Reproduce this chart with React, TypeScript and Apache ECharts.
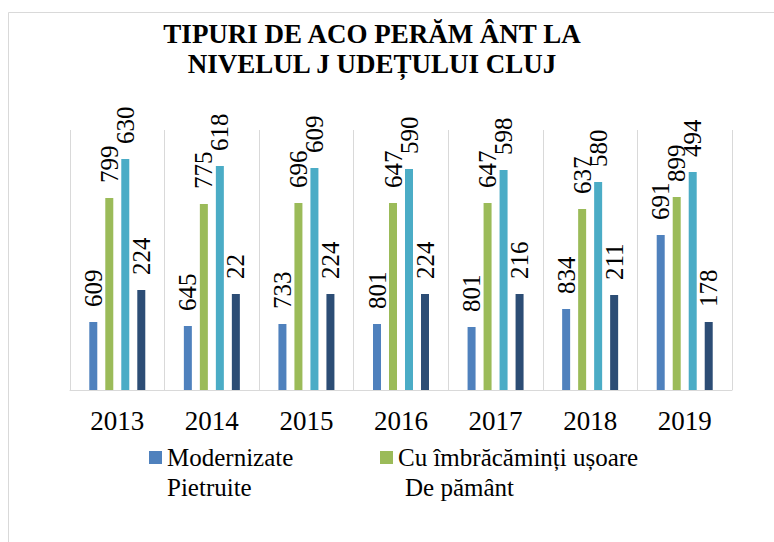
import React, { useEffect, useRef } from "react";
import * as echarts from "echarts";

// Categories
const years = ["2013", "2014", "2015", "2016", "2017", "2018", "2019"];

// Series names
const seriesNames = ["Modernizate", "Cu îmbrăcăminți ușoare", "Pietruite", "De pământ"];

// Bar heights as drawn in the reference (relative scale)
const modernizate = [68, 64, 66, 66, 63, 81, 155];
const cuImbracaminti = [192, 186, 187, 187, 187, 181, 193];
const pietruite = [231, 224, 222, 221, 220, 208, 218];
const dePamant = [100, 96, 96, 96, 96, 95, 68];

// Data labels as printed in the reference
const modernizateLabels = ["609", "645", "733", "801", "801", "834", "691"];
const cuImbracamintiLabels = ["799", "775", "696", "647", "647", "637", "899"];
const pietruiteLabels = ["630", "618", "609", "590", "598", "580", "494"];
const dePamantLabels = ["224", "22", "224", "224", "216", "211", "178"];

const colors = ["#4f81bd", "#9bbb59", "#4bacc6", "#2c4d75"];
const FONT = "Times New Roman, Liberation Serif, serif";

export default function App() {
  const ref = useRef<HTMLDivElement>(null);

  useEffect(() => {
    if (!ref.current) return;
    const chart = echarts.init(ref.current, undefined, { renderer: "svg" });
    const values = [modernizate, cuImbracaminti, pietruite, dePamant];
    const labels = [modernizateLabels, cuImbracamintiLabels, pietruiteLabels, dePamantLabels];

    const series = seriesNames.map((name, i) => ({
      name,
      type: "bar",
      data: values[i],
      barWidth: 8,
      barGap: "100%",
      itemStyle: { color: colors[i] },
      label: {
        show: true,
        position: "top",
        distance: 15,
        rotate: 90,
        align: "left",
        verticalAlign: "middle",
        fontSize: 25,
        fontFamily: FONT,
        fontWeight: "normal",
        color: "#000",
        formatter: (p: any) => labels[i][p.dataIndex],
      },
    }));

    const legendPos = [
      { left: 149, top: 445 },
      { left: 380, top: 445 },
      { left: 149, top: 475 },
      { left: 387, top: 475 },
    ];
    const legend = seriesNames.map((name, i) => ({
      data: [i < 2 ? { name } : { name, itemStyle: { opacity: 0 } }],
      left: legendPos[i].left,
      top: legendPos[i].top,
      padding: 0,
      icon: "rect",
      itemWidth: 13,
      itemHeight: 13,
      selectedMode: false,
      textStyle: { fontSize: 25, fontFamily: FONT, fontWeight: "normal", color: "#000" },
    }));

    chart.setOption({
      animation: false,
      textStyle: { fontFamily: FONT },
      title: {
        text: "TIPURI DE ACO PERĂM ÂNT LA\nNIVELUL J UDEȚULUI CLUJ",
        left: 367,
        textAlign: "center",
        top: 14,
        textStyle: {
          fontSize: 27,
          fontWeight: "bold",
          fontFamily: FONT,
          color: "#000",
          lineHeight: 30,
        },
      },
      graphic: [
        {
          type: "rect",
          silent: true,
          z: -10,
          shape: { x: 8.5, y: 12.5, width: 900, height: 700 },
          style: { fill: "none", stroke: "#d9d9d9", lineWidth: 1 },
        },
      ],
      legend,
      grid: { left: 70, right: 42, top: 130, bottom: 152, containLabel: false },
      xAxis: {
        type: "category",
        data: years,
        axisLine: { lineStyle: { color: "#d9d9d9", width: 1 } },
        axisTick: { show: false },
        splitLine: { show: true, lineStyle: { color: "#d9d9d9", width: 1 } },
        axisLabel: { fontSize: 27, fontFamily: FONT, color: "#000", margin: 17 },
      },
      yAxis: { type: "value", min: 0, max: 260, show: false },
      series,
    });

    return () => chart.dispose();
  }, []);

  return (
    <div
      ref={ref}
      style={{ position: "absolute", left: 0, top: 0, width: 774, height: 542, background: "#fff" }}
    />
  );
}
